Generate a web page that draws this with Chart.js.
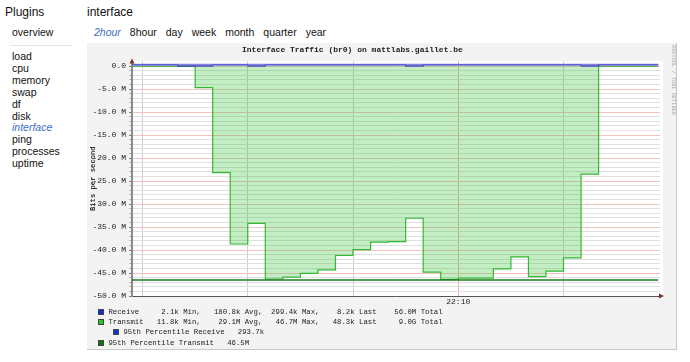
<!DOCTYPE html>
<html>
<head>
<meta charset="utf-8">
<script src="https://cdn.jsdelivr.net/npm/chart.js@4.4.1/dist/chart.umd.min.js"></script>
<style>
  body { margin: 0; width: 690px; height: 362px; background: #fff; font-family: "Liberation Sans", Arial, sans-serif; color: #111; position: relative; overflow: hidden; }
  .abs { position: absolute; white-space: nowrap; }
  .head { font-size: 12px; line-height: 12px; }
  .nav { font-size: 10.5px; line-height: 11.9px; }
  .sel { color: #3a6fc4; font-style: italic; }
  #tabs span { margin-right: 9px; }
  #panel { left: 87px; top: 43px; width: 589px; height: 306px; background: #f3f3f3; border-right: 1px solid #c8c8c8; border-bottom: 1px solid #c8c8c8; }
  #graph { position: absolute; left: 87px; top: 43px; }
  .mono { font-family: "Liberation Mono", "DejaVu Sans Mono", monospace; color: #222; }
  .leg { font-size: 7.33px; line-height: 8px; white-space: pre; }
  .box { display: inline-block; width: 4px; height: 4px; border: 1px solid #444; vertical-align: -1px; }
</style>
</head>
<body>
<div class="abs head" style="left:5px; top:6px;">Plugins</div>
<div class="abs head" style="left:87px; top:6px;">interface</div>
<div class="abs nav" style="left:12px; top:27px;">overview</div>
<div class="abs" style="left:10px; top:45px; width:62px; height:1px; background:#e4e4e4;"></div>
<div class="abs nav" style="left:12px; top:51px;">
  load<br>cpu<br>memory<br>swap<br>df<br>disk<br><span class="sel">interface</span><br>ping<br>processes<br>uptime
</div>
<div class="abs nav" id="tabs" style="left:94px; top:27px;">
  <span class="sel">2hour</span><span>8hour</span><span>day</span><span>week</span><span>month</span><span>quarter</span><span>year</span>
</div>

<div class="abs" id="panel"></div>
<canvas id="graph" width="590" height="307"></canvas>

<div class="abs mono" style="left:242px; top:46px; font-size:8px; line-height:8px; font-weight:bold;">Interface Traffic (br0) on mattlabs.gaillet.be</div>
<div class="abs mono" style="left:670px; top:45px; font-size:5.3px; line-height:5.3px; color:#a8a8a8; writing-mode:vertical-rl;">RRDTOOL / TOBI OETIKER</div>

<div class="abs mono leg" style="left:98px; top:308px;"><span class="box" style="background:#0033dd;"></span> Receive     2.1k Min,   180.8k Avg,  299.4k Max,    8.2k Last    56.0M Total</div>
<div class="abs mono leg" style="left:98px; top:318px;"><span class="box" style="background:#22cc22;"></span> Transmit   11.8k Min,    29.1M Avg,   46.7M Max,   48.3k Last     9.0G Total</div>
<div class="abs mono leg" style="left:113px; top:328px;"><span class="box" style="background:#1133cc;"></span> 95th Percentile Receive   293.7k</div>
<div class="abs mono leg" style="left:98px; top:339px;"><span class="box" style="background:#117711;"></span> 95th Percentile Transmit   46.5M</div>

<script>
// time in minutes relative to 22:10, one RRD step every 5 minutes
var times = [-93, -90, -85, -80, -75, -70, -65, -60, -55, -50, -45, -40, -35, -30, -25, -20,
             -15, -10, -5, 0, 5, 10, 15, 20, 25, 30, 35, 40, 45, 50, 55, 57];
// transmit in M bits/s, drawn negative
var transmit = [-0.05, -0.05, -0.05, -0.05, -4.7, -23.2, -38.7, -34.2, -46.3, -45.9, -45.1, -44.3,
                -41.2, -39.9, -38.3, -38.2, -33.1, -44.8, -46.4, -46.1, -46.1, -44.1, -41.5, -45.8,
                -44.6, -41.7, -23.5, -0.05, -0.05, -0.05, -0.05, -0.05];
// receive in M bits/s
var receive = [0.29, 0.29, 0.29, 0.02, 0.02, 0.29, 0.29, 0.02, 0.29, 0.29, 0.29, 0.29,
               0.29, 0.29, 0.29, 0.29, 0.02, 0.29, 0.29, 0.29, 0.29, 0.29, 0.29, 0.29,
               0.29, 0.29, 0.02, 0.29, 0.29, 0.29, 0.29, 0.29];
var receivePct = 0.2937;
var transmitPct = -46.5;

// tick labels
var xTickMinutes = [-90, -60, -30, 0, 30];
var xTickLabels = ['', '', '', '22:10', ''];
var yMin = -50, yMax = 1;

function points(values) {
    return times.map(function (t, i) { return { x: t, y: values[i] }; });
}
function flat(v) {
    return [{ x: times[0], y: v }, { x: times[times.length - 1], y: v }];
}

Chart.defaults.font.family = '"Liberation Mono", "DejaVu Sans Mono", monospace';
Chart.defaults.color = '#333';

var plotBg = {
    id: 'plotBg',
    beforeDraw: function (chart) {
        var a = chart.chartArea, ctx = chart.ctx;
        ctx.save();
        ctx.fillStyle = '#ffffff';
        ctx.fillRect(a.left, a.top, a.right - a.left + 3, a.bottom - a.top);
        ctx.restore();
    }
};

var arrows = {
    id: 'arrows',
    afterDraw: function (chart) {
        var a = chart.chartArea, ctx = chart.ctx;
        ctx.save();
        ctx.fillStyle = '#7a3322';
        ctx.beginPath();
        ctx.moveTo(a.left, a.top - 3);
        ctx.lineTo(a.left - 2.5, a.top + 2);
        ctx.lineTo(a.left + 2.5, a.top + 2);
        ctx.fill();
        ctx.beginPath();
        ctx.moveTo(a.right + 4, a.bottom);
        ctx.lineTo(a.right - 1, a.bottom - 2.5);
        ctx.lineTo(a.right - 1, a.bottom + 2.5);
        ctx.fill();
        ctx.restore();
    }
};

var ctx = document.getElementById('graph').getContext('2d');
var myChart = new Chart(ctx, {
    type: 'line',
    data: {
        datasets: [
            {
                label: '95th Percentile Receive',
                data: flat(receivePct),
                borderColor: 'rgba(110,110,215,0.85)',
                borderWidth: 2,
                pointRadius: 0,
                order: 1
            },
            {
                label: 'Receive',
                data: points(receive),
                borderColor: '#1a1abf',
                borderWidth: 1.2,
                stepped: true,
                pointRadius: 0,
                order: 2
            },
            {
                label: '95th Percentile Transmit',
                data: flat(transmitPct),
                borderColor: '#1e7a1e',
                borderWidth: 1.5,
                pointRadius: 0,
                order: 3
            },
            {
                label: 'Transmit',
                data: points(transmit),
                borderColor: '#33b833',
                borderWidth: 1.2,
                backgroundColor: 'rgba(40,190,40,0.28)',
                fill: 'origin',
                stepped: true,
                pointRadius: 0,
                order: 4
            }
        ]
    },
    options: {
        responsive: false,
        animation: false,
        layout: { padding: { top: 18.4, right: 17, left: 0, bottom: 0 } },
        plugins: {
            legend: { display: false },
            tooltip: { enabled: false },
            title: { display: false }
        },
        scales: {
            x: {
                type: 'linear',
                min: times[0],
                max: 57.5,
                afterBuildTicks: function (scale) {
                    scale.ticks = xTickMinutes.map(function (v) { return { value: v }; });
                },
                afterFit: function (scale) { scale.height = 54; },
                ticks: {
                    autoSkip: false,
                    maxRotation: 0,
                    padding: 1,
                    font: { size: 8 },
                    color: '#222',
                    callback: function (v) {
                        var i = xTickMinutes.indexOf(v);
                        return i >= 0 ? xTickLabels[i] : '';
                    }
                },
                grid: {
                    drawTicks: false,
                    color: function (c) { return c.tick && c.tick.value === 0 ? '#f0a8a8' : '#cfcfcf'; }
                },
                border: { display: true, color: '#555', width: 1 }
            },
            y: {
                type: 'linear',
                min: yMin,
                max: yMax,
                afterBuildTicks: function (scale) {
                    var t = [];
                    for (var v = yMin; v <= 0; v++) t.push({ value: v });
                    scale.ticks = t;
                },
                afterFit: function (scale) { scale.width = 45; },
                ticks: {
                    autoSkip: false,
                    padding: 3,
                    font: { size: 8 },
                    color: '#222',
                    callback: function (v) {
                        if (v % 5 !== 0) return '';
                        return v === 0 ? '0.0' : v.toFixed(1) + ' M';
                    }
                },
                grid: {
                    tickLength: 3,
                    tickColor: function (c) { return c.tick && c.tick.value % 5 === 0 ? '#777' : '#bbb'; },
                    color: function (c) { return c.tick && c.tick.value % 5 === 0 ? '#f5c2c2' : '#e0e0e0'; }
                },
                border: { display: true, color: '#8a8a8a', width: 2 },
                title: {
                    display: true,
                    text: 'Bits per second',
                    color: '#333',
                    font: { size: 7.2, weight: 'bold' },
                    padding: { top: 2, bottom: 0 }
                }
            }
        }
    },
    plugins: [plotBg, arrows]
});
</script>
</body>
</html>
